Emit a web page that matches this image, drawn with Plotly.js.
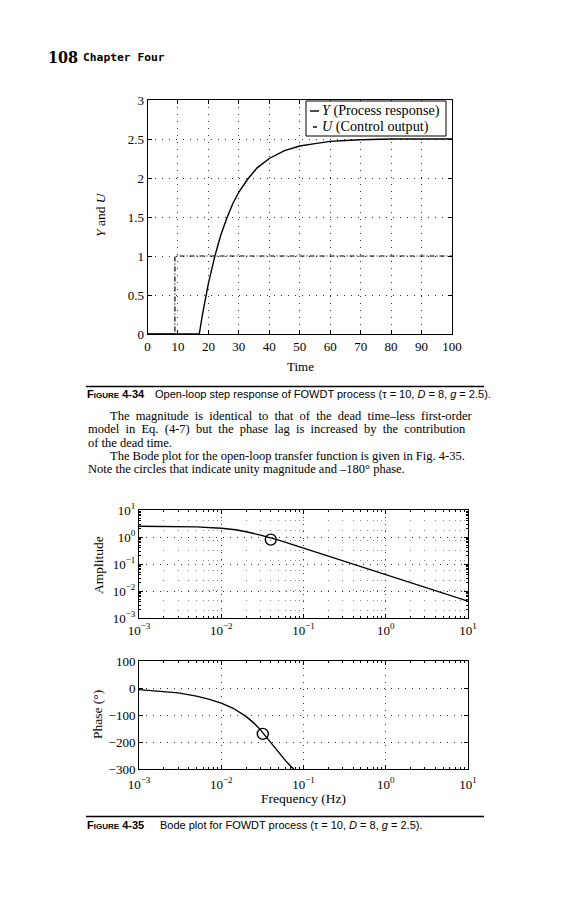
<!DOCTYPE html>
<html>
<head>
<meta charset="utf-8">
<script src="https://cdn.plot.ly/plotly-3.0.1.min.js"></script>
<style>
html,body{margin:0;padding:0;background:#fff;}
#chart{width:571px;height:900px;}
</style>
</head>
<body>
<div id="chart"></div>
<script>
// ---- Figure 4-34: open-loop step response ----
const timeY = [0, 17, 18, 20, 22, 24, 26, 28, 30, 33, 36, 40, 45, 50, 55, 60, 65, 70, 80, 100];
const processY = [0, 0, 0.24, 0.65, 0.98, 1.26, 1.48, 1.67, 1.82, 1.99, 2.13, 2.25, 2.35, 2.41, 2.44, 2.47, 2.48, 2.49, 2.5, 2.5];
const timeU = [0, 9, 9, 100];
const controlU = [0, 0, 1, 1];
const seriesNames = ['<i>Y</i> (Process response)', '<i>U</i> (Control output)'];

// ---- Figure 4-35: Bode plot ----
const freqAmp = [0.001, 0.002, 0.005, 0.01, 0.015, 0.02, 0.03, 0.05, 0.1, 0.2, 0.5, 1, 2, 5, 10];
const amplitude = [2.5, 2.49, 2.38, 2.12, 1.85, 1.56, 1.18, 0.77, 0.39, 0.198, 0.0795, 0.0398, 0.0199, 0.008, 0.0042];
const freqPhase = [0.001, 0.002, 0.003, 0.005, 0.007, 0.01, 0.014, 0.02, 0.025, 0.03, 0.035, 0.04, 0.05, 0.06, 0.07, 0.076];
const phaseDeg = [-6, -12, -18, -30, -41, -56, -75, -105, -130, -155, -180, -203, -240, -268, -290, -300];
const ampMarkF = [0.040], ampMarkV = [0.80];
const phaseMarkF = [0.032], phaseMarkV = [-170];

const logTickVals = [0.001, 0.01, 0.1, 1, 10];
const logTickText = ['10<sup>−3</sup>', '10<sup>−2</sup>', '10<sup>−1</sup>', '10<sup>0</sup>', '10<sup>1</sup>'];
const phaseTicks = [-300, -200, -100, 0, 100];

// ---- helpers (layout only) ----
const W = 571, H = 900;
const px = v => v / W;
const py = v => 1 - v / H;
const SERIF = 'Liberation Serif, DejaVu Serif, serif';
const SANS = 'Liberation Sans Narrow, Liberation Sans, DejaVu Sans Condensed, sans-serif';
const wide = s => s.split(' ').join(' \u00a0');

function axisBase(extra) {
  return Object.assign({
    showline: true, linecolor: '#000', linewidth: 1, mirror: 'allticks',
    ticks: 'inside', ticklen: 4, tickcolor: '#000',
    showgrid: true, zeroline: false,
    gridcolor: '#333', griddash: '1px,6px', gridwidth: 1,
    tickfont: {family: SERIF, size: 13, color: '#000'},
    fixedrange: true
  }, extra);
}

const traces = [
  {x: timeY, y: processY, type: 'scatter', mode: 'lines', name: seriesNames[0], showlegend: false,
   line: {color: '#000', width: 1.4}, xaxis: 'x', yaxis: 'y'},
  {x: timeU, y: controlU, type: 'scatter', mode: 'lines', name: seriesNames[1], showlegend: false,
   line: {color: '#000', width: 1.2, dash: '5px,2px,1px,2px'}, xaxis: 'x', yaxis: 'y'},
  {x: freqAmp, y: amplitude, type: 'scatter', mode: 'lines', showlegend: false,
   line: {color: '#000', width: 1.4}, xaxis: 'x2', yaxis: 'y2'},
  {x: ampMarkF, y: ampMarkV, type: 'scatter', mode: 'markers', showlegend: false,
   marker: {symbol: 'circle-open', size: 11, color: '#000', line: {width: 1.4, color: '#000'}}, xaxis: 'x2', yaxis: 'y2'},
  {x: freqPhase, y: phaseDeg, type: 'scatter', mode: 'lines', showlegend: false,
   line: {color: '#000', width: 1.4}, xaxis: 'x3', yaxis: 'y3'},
  {x: phaseMarkF, y: phaseMarkV, type: 'scatter', mode: 'markers', showlegend: false,
   marker: {symbol: 'circle-open', size: 11, color: '#000', line: {width: 1.4, color: '#000'}}, xaxis: 'x3', yaxis: 'y3'}
];

const minorGridOn = {dtick: 'D1', showgrid: true, gridcolor: '#888', griddash: '1px,9px', ticks: 'inside', ticklen: 2, tickcolor: '#000'};
const minorGridOff = {dtick: 'D1', showgrid: false, ticks: 'inside', ticklen: 2, tickcolor: '#000'};

function ann(text, x, y, opts) {
  return Object.assign({text: text, x: px(x), y: py(y), xref: 'paper', yref: 'paper',
    showarrow: false, xanchor: 'left', yanchor: 'middle', borderpad: 0,
    font: {family: SERIF, size: 12.5, color: '#000'}}, opts || {});
}

const annotations = [
  ann('<b>108</b>', 47, 58, {font: {family: 'DejaVu Serif Condensed, DejaVu Serif, serif', size: 16, color: '#000'}}),
  ann('<b>Chapter Four</b>', 82, 58, {font: {family: 'DejaVu Sans Mono, monospace', size: 11.3, color: '#000'}}),
  // legend (drawn in the reference style)
  ann(seriesNames[0], 321, 111, {font: {family: SERIF, size: 14.2, color: '#000'}}),
  ann(seriesNames[1], 321, 127, {font: {family: SERIF, size: 14.2, color: '#000'}}),
  ann('Time', 300, 366, {xanchor: 'center', font: {family: SERIF, size: 13, color: '#000'}}),
  ann('<i>Y</i> and <i>U</i>', 100, 215, {xanchor: 'center', textangle: -90, font: {family: SERIF, size: 13.5, color: '#000'}}),
  ann('<b>F<span style="font-size:8px">IGURE</span> 4-34</b>', 86, 394, {font: {family: SANS, size: 11, color: '#000'}}),
  ann('Open-loop step response of FOWDT process (τ = 10, <i>D</i> = 8, <i>g</i> = 2.5).', 154, 394, {font: {family: SANS, size: 11, color: '#000'}}),
  ann(wide('The magnitude is identical to that of the dead time–less first-order'), 109, 416),
  ann(wide('model in Eq. (4-7) but the phase lag is increased by the contribution'), 87, 429.3),
  ann('of the dead time.', 87, 442.6),
  ann('The Bode plot for the open-loop transfer function is given in Fig. 4-35.', 109, 455.9),
  ann('Note the circles that indicate unity magnitude and –180° phase.', 87, 469.2),
  ann('Amplitude', 98, 565, {xanchor: 'center', textangle: -90, font: {family: SERIF, size: 13.5, color: '#000'}}),
  ann('Phase (°)', 97, 715, {xanchor: 'center', textangle: -90, font: {family: SERIF, size: 13.5, color: '#000'}}),
  ann('Frequency (Hz)', 303, 798, {xanchor: 'center', font: {family: SERIF, size: 13.5, color: '#000'}}),
  ann('<b>F<span style="font-size:8px">IGURE</span> 4-35</b>', 86, 825, {font: {family: SANS, size: 11, color: '#000'}}),
  ann('Bode plot for FOWDT process (τ = 10, <i>D</i> = 8, <i>g</i> = 2.5).', 159, 825, {font: {family: SANS, size: 11, color: '#000'}})
];

const shapes = [
  // legend box and samples
  {type: 'rect', xref: 'paper', yref: 'paper', x0: px(306), x1: px(446), y0: py(101), y1: py(136),
   line: {color: '#000', width: 1}, fillcolor: '#fff', layer: 'above'},
  {type: 'line', xref: 'paper', yref: 'paper', x0: px(310), x1: px(319), y0: py(111), y1: py(111), line: {color: '#000', width: 1.4}},
  {type: 'line', xref: 'paper', yref: 'paper', x0: px(313), x1: px(317), y0: py(127), y1: py(127), line: {color: '#000', width: 1.4}},
  // caption rules
  {type: 'line', xref: 'paper', yref: 'paper', x0: px(86), x1: px(484), y0: py(386.5), y1: py(386.5), line: {color: '#000', width: 1.5}},
  {type: 'line', xref: 'paper', yref: 'paper', x0: px(86), x1: px(484), y0: py(816.5), y1: py(816.5), line: {color: '#000', width: 1.5}}
];

const layout = {
  width: W, height: H,
  margin: {l: 0, r: 0, t: 0, b: 0},
  paper_bgcolor: '#fff', plot_bgcolor: '#fff',
  font: {family: SERIF, color: '#000'},
  showlegend: false,
  xaxis: axisBase({domain: [px(147.5), px(452)], anchor: 'y', range: [0, 100], dtick: 10, tick0: 0}),
  yaxis: axisBase({domain: [py(334), py(100)], anchor: 'x', range: [0, 3], dtick: 0.5, tick0: 0}),
  xaxis2: axisBase({domain: [px(139), px(468)], anchor: 'y2', type: 'log', range: [-3, 1],
    tickvals: logTickVals, ticktext: logTickText, minor: minorGridOn}),
  yaxis2: axisBase({domain: [py(618), py(510)], anchor: 'x2', type: 'log', range: [-3, 1],
    tickvals: logTickVals, ticktext: logTickText, minor: minorGridOff}),
  xaxis3: axisBase({domain: [px(139), px(468)], anchor: 'y3', type: 'log', range: [-3, 1],
    tickvals: logTickVals, ticktext: logTickText, minor: minorGridOff, ticklabelstandoff: 3}),
  yaxis3: axisBase({domain: [py(769), py(661)], anchor: 'x3', range: [-300, 100], tickvals: phaseTicks}),
  annotations: annotations,
  shapes: shapes
};

Plotly.newPlot('chart', traces, layout, {displayModeBar: false, staticPlot: true});
</script>
</body>
</html>
